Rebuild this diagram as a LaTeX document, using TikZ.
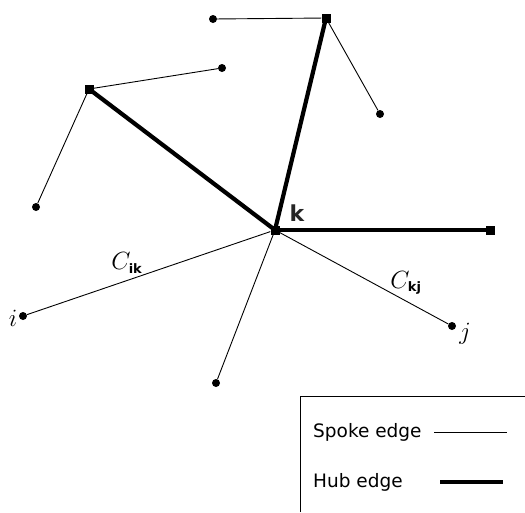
\documentclass[tikz,border=0pt]{standalone}
\usepackage{fontspec}
\setsansfont{DejaVu Sans}
\begin{document}
\begin{tikzpicture}[x=1pt,y=-1pt,
  spokept/.style={circle,fill=black,inner sep=0pt,minimum size=8pt},
  hubpt/.style={rectangle,fill=black,inner sep=0pt,minimum size=9pt},
  spoke/.style={line width=0.9pt},
  hub/.style={line width=4.2pt},
  lbl/.style={inner sep=0pt,font=\fontsize{25}{28}\selectfont},
  legtext/.style={anchor=west,inner sep=0pt,font=\sffamily\fontsize{18.5}{22}\selectfont}]
\useasboundingbox (0,0) rectangle (525,512);
% hubs
\node[hubpt] (h1) at (326,18) {};
\node[hubpt] (h2) at (89,89) {};
\node[hubpt] (k) at (275,230) {};
\node[hubpt] (h4) at (490,230) {};
% spokes
\node[spokept] (s1) at (213,19) {};
\node[spokept] (s2) at (222,68) {};
\node[spokept] (s3) at (380,114) {};
\node[spokept] (s4) at (36,207) {};
\node[spokept] (i) at (23,316) {};
\node[spokept] (j) at (452,326) {};
\node[spokept] (s5) at (216,383) {};
% hub edges
\draw[hub] (k.center) -- (h1.center);
\draw[hub] (k.center) -- (h2.center);
\draw[hub] (k.center) -- (h4.center);
% spoke edges
\draw[spoke] (h1) -- (s1);
\draw[spoke] (h1) -- (s3);
\draw[spoke] (h2) -- (s2);
\draw[spoke] (h2) -- (s4);
\draw[spoke] (k) -- (i);
\draw[spoke] (k) -- (j);
\draw[spoke] (k) -- (s5);
% labels
\node[lbl,font=\sffamily\bfseries\fontsize{22}{26}\selectfont,text=black!85] (kl) at (297,213) {k};
\node[lbl] (cik) at (127,263) {$C_{\textsf{\textbf{\fontsize{13}{14}\selectfont ik}}}$};
\node[lbl] (ckj) at (406,283) {$C_{\textsf{\textbf{\fontsize{13}{14}\selectfont kj}}}$};
\node[lbl] (il) at (13,318) {$i$};
\node[lbl] (jl) at (465,334) {$j$};
% legend
\draw[line width=1pt] (300,512) -- (300,396) -- (525,396);
\node[legtext] (lsp) at (313,432) {Spoke edge};
\node[legtext] (lhub) at (313,482) {Hub edge};
\coordinate (a1) at (434,432); \coordinate (a2) at (507,432);
\coordinate (b1) at (440,482); \coordinate (b2) at (503,482);
\draw[spoke] (a1) -- (a2);
\draw[hub] (b1) -- (b2);
\end{tikzpicture}
\end{document}
